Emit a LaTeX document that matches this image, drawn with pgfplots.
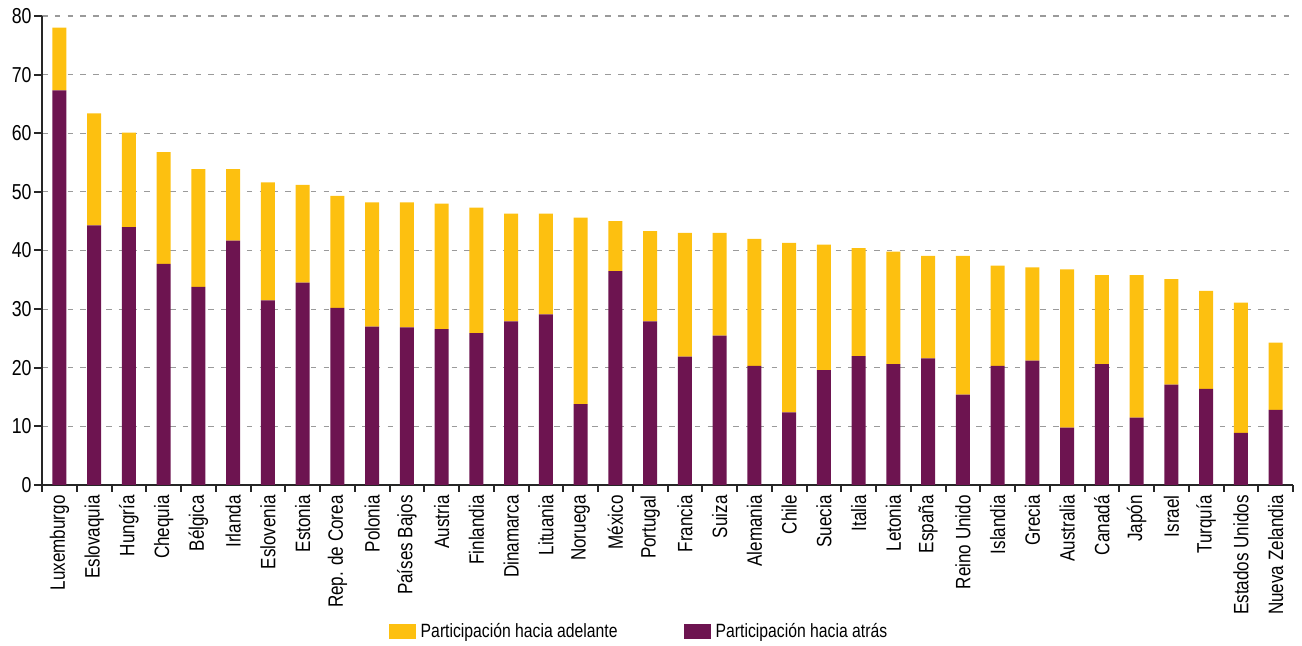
\documentclass[border=0pt]{standalone}
\usepackage{pgfplots}
\pgfplotsset{compat=1.18}
\usepackage{fontspec}
\setmainfont{Liberation Sans}[FakeStretch=0.82]
\definecolor{adel}{HTML}{FDC010}
\definecolor{atras}{HTML}{6D1450}
\definecolor{gridgray}{HTML}{9A9A9A}

\begin{document}
\begin{tikzpicture}
\useasboundingbox (-21pt,-80.5pt) rectangle (630pt,242.5pt);
\begin{axis}[
  at={(0,0)}, anchor=south west,
  scale only axis, width=625.5pt, height=234.5pt,
  ybar stacked, bar width=7pt,
  xmin=-0.5, xmax=35.5, ymin=0, ymax=80,
  ytick={0,10,...,80},
  xtick={0,...,35},
  xticklabels={Luxemburgo,Eslovaquia,Hungría,Chequia,Bélgica,Irlanda,Eslovenia,Estonia,Rep. de Corea,Polonia,Países Bajos,Austria,Finlandia,Dinamarca,Lituania,Noruega,México,Portugal,Francia,Suiza,Alemania,Chile,Suecia,Italia,Letonia,España,Reino Unido,Islandia,Grecia,Australia,Canadá,Japón,Israel,Turquía,Estados Unidos,Nueva Zelandia},
  minor xtick={-0.5,0.5,...,35.5},
  major x tick style={draw=none},
  minor tick length=3.5pt, major tick length=4pt,
  tick align=outside, tick pos=left,
  axis x line*=bottom, axis y line*=left,
  axis line style={line width=1pt, black!85},
  tick style={line width=1pt, black!85},
  xmajorgrids=false, xminorgrids=false, ymajorgrids=true,
  major grid style={draw=gridgray, dash pattern=on 2.8pt off 3.6pt, line width=0.6pt},
  x tick label style={rotate=90, anchor=east, font=\fontsize{10.4}{12}\selectfont, inner sep=1pt},
  y tick label style={font=\fontsize{10.8}{12}\selectfont, inner sep=1pt},
  /pgf/number format/assume math mode=true,
  legend columns=2, reverse legend,
  legend style={at={(0.478,-0.313)}, anchor=center, draw=none, fill=none,
    font=\fontsize{9.6}{12}\selectfont, column sep=0pt,
    /tikz/every odd column/.append style={column sep=0.5pt},
    /tikz/every even column/.append style={column sep=31pt}},
  legend image code/.code={\fill[#1] (0pt,-3.75pt) rectangle (13.5pt,3.75pt);},
]
\addplot[fill=atras, draw=none] coordinates {
(0,67.3) (1,44.3) (2,44.0) (3,37.7) (4,33.8) (5,41.7) (6,31.5) (7,34.5) (8,30.2) (9,27.0)
(10,26.9) (11,26.6) (12,25.9) (13,27.9) (14,29.1) (15,13.8) (16,36.5) (17,27.9) (18,21.9) (19,25.5)
(20,20.3) (21,12.4) (22,19.6) (23,22.0) (24,20.6) (25,21.6) (26,15.4) (27,20.3) (28,21.2) (29,9.8)
(30,20.6) (31,11.5) (32,17.1) (33,16.4) (34,8.9) (35,12.8)};
\addlegendentry{Participación hacia atrás}
\addplot[fill=adel, draw=none] coordinates {
(0,10.7) (1,19.1) (2,16.1) (3,19.1) (4,20.1) (5,12.2) (6,20.1) (7,16.7) (8,19.1) (9,21.2)
(10,21.3) (11,21.4) (12,21.4) (13,18.4) (14,17.2) (15,31.8) (16,8.5) (17,15.4) (18,21.1) (19,17.5)
(20,21.7) (21,28.9) (22,21.4) (23,18.4) (24,19.2) (25,17.5) (26,23.7) (27,17.1) (28,15.9) (29,27.0)
(30,15.2) (31,24.3) (32,18.0) (33,16.7) (34,22.2) (35,11.5)};
\addlegendentry{Participación hacia adelante}
\end{axis}
\end{tikzpicture}
\end{document}
